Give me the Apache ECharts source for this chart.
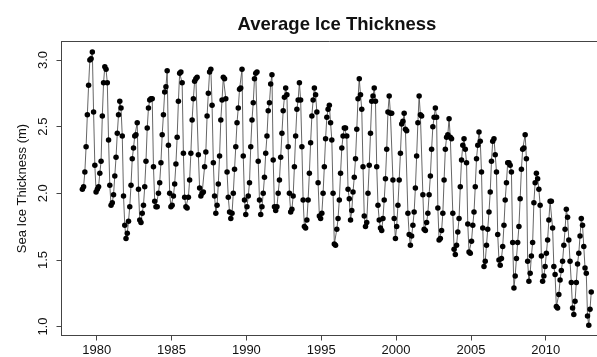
<!DOCTYPE html>
<html>
<head>
<meta charset="utf-8">
<title>Average Ice Thickness</title>
<script src="https://cdn.jsdelivr.net/npm/echarts@6/dist/echarts.min.js"></script>
<style>
  html, body { margin: 0; padding: 0; background: #fff; }
  #chart { width: 597px; height: 357px; }
</style>
</head>
<body>
<div id="chart"></div>
<script>
// Monthly mean sea ice thickness (m), one value per month starting January 1979.
const startYear = 1979;

const thickness1979to1987 = [
  2.03, 2.05, 2.16, 2.35, 2.59, 2.81, 3.00, 3.01, 3.06, 2.61, 2.21, 2.01,
  2.03, 2.05, 2.15, 2.24, 2.58, 2.83, 2.95, 2.93, 2.83, 2.40, 2.06, 1.91,
  1.93, 1.99, 2.13, 2.27, 2.45, 2.59, 2.69, 2.64, 2.43, 1.98, 1.76, 1.66,
  1.70, 1.79, 1.90, 2.06, 2.26, 2.34, 2.43, 2.44, 2.53, 2.03, 1.80, 1.78,
  1.85, 1.91, 2.05, 2.24, 2.49, 2.64, 2.70, 2.71, 2.71, 2.20, 1.94, 1.90,
  1.90, 2.00, 2.08, 2.23, 2.44, 2.59, 2.76, 2.80, 2.92, 2.36, 2.00, 1.90,
  1.91, 1.98, 2.07, 2.22, 2.42, 2.69, 2.90, 2.91, 2.83, 2.30, 1.97, 1.90,
  1.89, 1.97, 2.10, 2.30, 2.55, 2.71, 2.84, 2.86, 2.87, 2.29, 2.04, 1.98,
  2.00, 2.01, 2.20, 2.31, 2.58, 2.75, 2.91, 2.93, 2.66, 2.23, 1.98, 1.85
];

const thickness1988to1996 = [
  1.91, 2.07, 2.28, 2.55, 2.70, 2.87, 2.86, 2.71, 2.16, 1.97, 1.86, 1.81,
  1.85, 2.00, 2.18, 2.35, 2.53, 2.64, 2.78, 2.79, 2.93, 2.28, 1.95, 1.84,
  1.90, 1.98, 2.08, 2.35, 2.55, 2.68, 2.86, 2.90, 2.91, 2.24, 1.95, 1.84,
  1.90, 2.00, 2.12, 2.30, 2.43, 2.62, 2.68, 2.82, 2.89, 2.25, 1.90, 1.87,
  1.90, 2.00, 2.10, 2.27, 2.45, 2.62, 2.72, 2.79, 2.74, 2.35, 2.00, 1.86,
  1.88, 1.98, 2.20, 2.43, 2.63, 2.70, 2.83, 2.70, 2.35, 1.95, 1.75, 1.74,
  1.80, 1.95, 2.15, 2.38, 2.58, 2.70, 2.79, 2.74, 2.61, 2.08, 1.83, 1.81,
  1.85, 2.00, 2.20, 2.41, 2.57, 2.63, 2.66, 2.53, 2.40, 2.00, 1.62, 1.61,
  1.73, 1.81, 1.95, 2.15, 2.34, 2.43, 2.49, 2.49, 2.43, 2.03, 1.96, 1.80
];

const thickness1997to2004 = [
  1.87, 2.01, 2.12, 2.26, 2.48, 2.71, 2.86, 2.74, 2.63, 2.20, 1.83, 1.75,
  1.78, 2.00, 2.21, 2.45, 2.69, 2.73, 2.79, 2.69, 2.20, 1.91, 1.80, 1.74,
  1.72, 1.81, 1.95, 2.11, 2.33, 2.61, 2.73, 2.60, 2.60, 2.10, 1.81, 1.66,
  1.75, 1.91, 2.10, 2.30, 2.52, 2.54, 2.60, 2.48, 2.47, 1.85, 1.69, 1.61,
  1.68, 1.76, 1.86, 2.04, 2.28, 2.53, 2.73, 2.59, 2.58, 1.99, 1.73, 1.72,
  1.78, 1.85, 1.99, 2.13, 2.33, 2.50, 2.57, 2.64, 2.57, 1.89, 1.65, 1.66,
  1.72, 1.85, 2.10, 2.33, 2.42, 2.44, 2.56, 2.42, 2.41, 1.85, 1.58, 1.54,
  1.61, 1.71, 1.81, 2.05, 2.25, 2.36, 2.41, 2.33, 2.23, 1.77, 1.56, 1.55
];

const thickness2005to2013 = [
  1.64, 1.76, 1.86, 2.05, 2.26, 2.36, 2.46, 2.39, 2.16, 1.74, 1.45, 1.49,
  1.61, 1.73, 1.86, 2.01, 2.24, 2.39, 2.41, 2.29, 2.16, 1.69, 1.50, 1.46,
  1.51, 1.60, 1.76, 1.95, 2.08, 2.23, 2.23, 2.21, 2.16, 1.63, 1.29, 1.38,
  1.51, 1.63, 1.75, 1.96, 2.18, 2.33, 2.34, 2.44, 2.26, 1.49, 1.34, 1.40,
  1.53, 1.63, 1.93, 2.08, 2.15, 2.11, 2.03, 1.91, 1.53, 1.34, 1.38, 1.45,
  1.55, 1.65, 1.80, 1.94, 1.94, 1.74, 1.45, 1.39, 1.15, 1.14, 1.24, 1.35,
  1.42, 1.49, 1.61, 1.73, 1.88, 1.82, 1.65, 1.49, 1.33, 1.14, 1.09, 1.19,
  1.33, 1.47, 1.55, 1.68, 1.81, 1.76, 1.60, 1.44, 1.40, 1.08, 1.01, 1.13,
  1.26
];

const yearTicks = [1980, 1985, 1990, 1995, 2000, 2005, 2010];
const thicknessTicks = [1.0, 1.5, 2.0, 2.5, 3.0];

const thickness = thickness1979to1987.concat(thickness1988to1996, thickness1997to2004, thickness2005to2013);
// Each monthly value sits at the middle of its month on a decimal-year axis.
const points = thickness.map((v, i) => [startYear + (i + 0.5) / 12, v]);

const FONT = '"Liberation Sans", Arial, Helvetica, sans-serif';
const INK = '#111';
const FRAME = '#444';

const chart = echarts.init(document.getElementById('chart'), null, { renderer: 'canvas' });

chart.setOption({
  animation: false,
  backgroundColor: '#ffffff',
  title: {
    text: 'Average Ice Thickness',
    left: 332,
    textAlign: 'center',
    top: 10,
    textStyle: { fontFamily: FONT, fontSize: 18.5, fontWeight: 'bold', color: INK }
  },
  grid: {
    left: 61.5,
    top: 41.5,
    width: 548.6,
    height: 294,
    show: true,
    borderColor: FRAME,
    borderWidth: 1,
    backgroundColor: 'transparent',
    containLabel: false,
    outerBoundsMode: 'none'
  },
  xAxis: {
    type: 'value',
    min: 1977.648,
    max: 2014.3,
    splitLine: { show: false },
    axisLine: { show: true, lineStyle: { color: FRAME, width: 1 } },
    axisTick: {
      show: true,
      customValues: yearTicks,
      length: 5,
      lineStyle: { color: FRAME, width: 1 }
    },
    axisLabel: {
      customValues: yearTicks,
      formatter: v => String(Math.round(v)),
      margin: 8,
      fontFamily: FONT,
      fontSize: 13,
      color: INK
    }
  },
  yAxis: {
    type: 'value',
    min: 0.933,
    max: 3.139,
    name: 'Sea Ice Thickness (m)',
    nameLocation: 'middle',
    nameGap: 31,
    nameRotate: 90,
    nameTextStyle: { fontFamily: FONT, fontSize: 13, color: INK },
    splitLine: { show: false },
    axisLine: { show: true, lineStyle: { color: FRAME, width: 1 } },
    axisTick: {
      show: true,
      customValues: thicknessTicks,
      length: 5,
      lineStyle: { color: FRAME, width: 1 }
    },
    axisLabel: {
      customValues: thicknessTicks,
      formatter: v => v.toFixed(1),
      rotate: 90,
      margin: 12,
      fontFamily: FONT,
      fontSize: 13,
      color: INK
    }
  },
  series: [{
    type: 'line',
    data: points,
    showSymbol: true,
    symbol: 'circle',
    symbolSize: 5.5,
    clip: true,
    lineStyle: { color: '#555', width: 0.9 },
    itemStyle: { color: '#000', borderWidth: 0 },
    emphasis: { disabled: true }
  }]
});
</script>
</body>
</html>
